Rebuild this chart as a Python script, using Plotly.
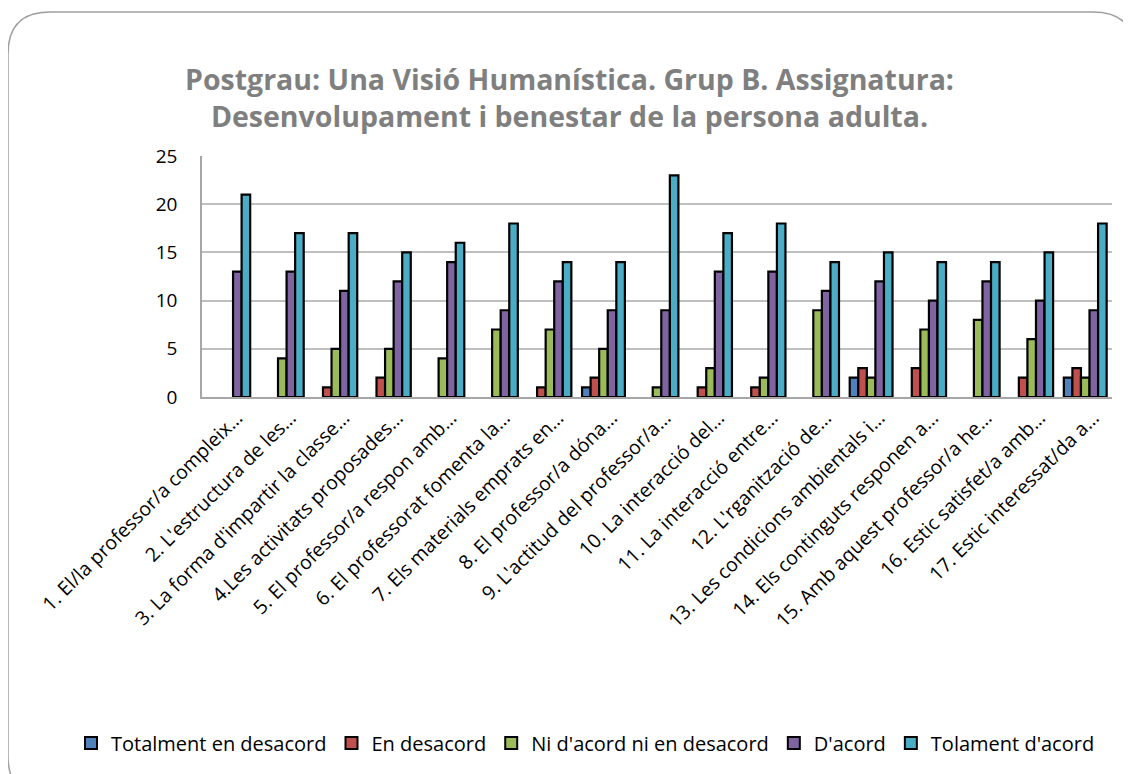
import plotly.graph_objects as go

# -----------------------------
# Data
# -----------------------------
categories = [
    "1. El/la professor/a compleix…",
    "2. L'estructura de les…",
    "3. La forma d'impartir la classe…",
    "4.Les activitats proposades…",
    "5. El professor/a respon amb…",
    "6. El professorat fomenta la…",
    "7. Els materials emprats en…",
    "8. El professor/a dóna…",
    "9. L'actitud del professor/a…",
    "10. La interacció del…",
    "11. La interacció entre…",
    "12. L'rganització de…",
    "13. Les condicions ambientals i…",
    "14. Els continguts responen a…",
    "15. Amb aquest professor/a he…",
    "16. Estic satisfet/a amb…",
    "17. Estic interessat/da a…",
]

totalment_desacord = [0, 0, 0, 0, 0, 0, 0, 1, 0, 0, 0, 0, 2, 0, 0, 0, 2]
en_desacord        = [0, 0, 1, 2, 0, 0, 1, 2, 0, 1, 1, 0, 3, 3, 0, 2, 3]
ni_acord           = [0, 4, 5, 5, 4, 7, 7, 5, 1, 3, 2, 9, 2, 7, 8, 6, 2]
d_acord            = [13, 13, 11, 12, 14, 9, 12, 9, 9, 13, 13, 11, 12, 10, 12, 10, 9]
tolament_acord     = [21, 17, 17, 15, 16, 18, 14, 14, 23, 17, 18, 14, 15, 14, 14, 15, 18]

series = [
    ("Totalment en desacord", totalment_desacord, "#4F81BD"),
    ("En desacord", en_desacord, "#C0504D"),
    ("Ni d'acord ni en desacord", ni_acord, "#9BBB59"),
    ("D'acord", d_acord, "#8064A2"),
    ("Tolament d'acord", tolament_acord, "#4BACC6"),
]

FONT = "Open Sans"
# page body has an 8px margin, so the figure is a bit smaller than the window
W, H = 1123, 766
ML, MR, MT, MB = 194, 19, 148, 377
PW, PH = W - ML - MR, H - MT - MB

fig = go.Figure()
for name, vals, color in series:
    # zero counts are not drawn (no outline line on the baseline)
    fig.add_trace(go.Bar(
        x=categories, y=[v if v else None for v in vals], name=name,
        marker=dict(color=color, line=dict(color="black", width=2.2)),
    ))

# rounded outer border, given in pixels and converted to paper coords
def px(x, y):
    return (x - ML) / PW, (H - MB - y) / PH

x0, y0, x1, y1, r = 0, 4, 1127, 790, 42
corners = [
    ("M", [(x0, y0 + r)]),
    ("Q", [(x0, y0), (x0 + r, y0)]),
    ("L", [(x1 - r, y0)]),
    ("Q", [(x1, y0), (x1, y0 + r)]),
    ("L", [(x1, y1 - r)]),
    ("Q", [(x1, y1), (x1 - r, y1)]),
    ("L", [(x0 + r, y1)]),
    ("Q", [(x0, y1), (x0, y1 - r)]),
]
path = " ".join(cmd + " " + " ".join("%.5f,%.5f" % px(*p) for p in pts) for cmd, pts in corners) + " Z"

fig.update_layout(
    width=W, height=H,
    barmode="group", bargap=0.2, bargroupgap=0,
    paper_bgcolor="white", plot_bgcolor="white",
    margin=dict(l=ML, r=MR, t=MT, b=MB),
    title=dict(
        text="Postgrau: Una Visió Humanística. Grup B. Assignatura:<br>Desenvolupament i benestar de la persona adulta.",
        x=0.5, xanchor="center", y=1 - 82 / H, yanchor="middle",
        font=dict(family=FONT, size=28.5, color="#7F7F7F", weight="bold"),
    ),
    font=dict(family=FONT, color="black"),
    xaxis=dict(
        tickangle=-45, tickfont=dict(size=19.5, color="black"),
        showline=True, linecolor="#A6A6A6", linewidth=1.5,
        ticks="", showgrid=False, automargin=False, ticklabelshift=8,
    ),
    yaxis=dict(
        range=[0, 25], dtick=5, tickfont=dict(size=19, color="black"),
        showgrid=True, gridcolor="#BFBFBF", gridwidth=1.5,
        showline=True, linecolor="#A6A6A6", linewidth=1.5,
        zeroline=False, ticks="", ticklabelstandoff=19, automargin=False,
    ),
    legend=dict(
        orientation="h", x=(63 - ML) / PW, xanchor="left",
        y=(H - MB - 735) / PH, yanchor="middle",
        font=dict(size=20, color="black"), itemsizing="constant",
        traceorder="normal", itemwidth=30,
    ),
    shapes=[dict(type="path", xref="paper", yref="paper", path=path,
                 line=dict(color="#A0A0A0", width=1.5), layer="below")],
)

fig.write_html("out.html")
